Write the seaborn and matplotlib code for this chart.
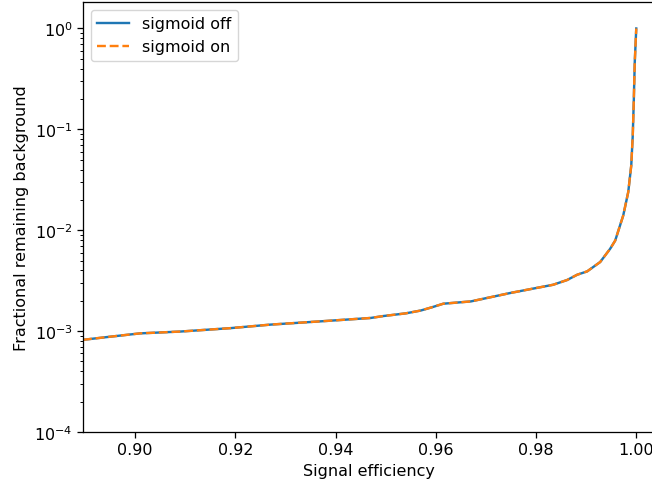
import matplotlib
matplotlib.use("Agg")
import seaborn as sns
import matplotlib.pyplot as plt

# signal efficiency vs fractional remaining background
sig_eff = [0.8896, 0.895, 0.901, 0.909, 0.919, 0.927, 0.937, 0.947, 0.9495,
           0.954, 0.957, 0.9595, 0.9615, 0.967, 0.9749, 0.9834, 0.9862, 0.9882,
           0.9902, 0.9928, 0.9948, 0.9958, 0.9974, 0.9984, 0.9990, 0.9993,
           0.9995, 0.9997, 1.0]
bkg_off = [8.2e-4, 8.8e-4, 9.5e-4, 9.9e-4, 1.07e-3, 1.16e-3, 1.25e-3, 1.35e-3,
           1.41e-3, 1.50e-3, 1.60e-3, 1.74e-3, 1.87e-3, 1.97e-3, 2.39e-3,
           2.88e-3, 3.21e-3, 3.62e-3, 3.91e-3, 4.84e-3, 6.56e-3, 7.9e-3,
           0.0140, 0.0239, 0.0438, 0.0868, 0.186, 0.463, 1.0]
bkg_on = list(bkg_off)

# reference looks rendered ~15% larger than matplotlib defaults
s = 1.15
plt.rcParams.update({
    "font.size": 10 * s,
    "axes.linewidth": 0.8 * s,
    "xtick.major.size": 3.5 * s,
    "ytick.major.size": 3.5 * s,
    "xtick.minor.size": 2 * s,
    "ytick.minor.size": 2 * s,
    "xtick.major.width": 0.8 * s,
    "ytick.major.width": 0.8 * s,
    "ytick.minor.width": 0.6 * s,
})

fig = plt.figure(figsize=(6.52, 4.85), dpi=100)
ax = fig.add_axes([83 / 652, 1 - 433 / 485, (655.3 - 83) / 652, (433 - 3) / 485])

sns.lineplot(x=sig_eff, y=bkg_off, ax=ax, color="#1f77b4", linewidth=1.5 * s,
             label="sigmoid off", sort=False)
sns.lineplot(x=sig_eff, y=bkg_on, ax=ax, color="#ff7f0e", linewidth=1.5 * s,
             linestyle="--", label="sigmoid on", sort=False)

ax.set_yscale("log")
ax.set_xlim(0.8896, 1.0038)
ax.set_ylim(1e-4, 1.83)
ax.set_xticks([0.90, 0.92, 0.94, 0.96, 0.98, 1.00])
ax.set_xlabel("Signal efficiency")
ax.set_ylabel("Fractional remaining background")
ax.legend(loc="upper left")

fig.savefig("out.png", dpi=100)
